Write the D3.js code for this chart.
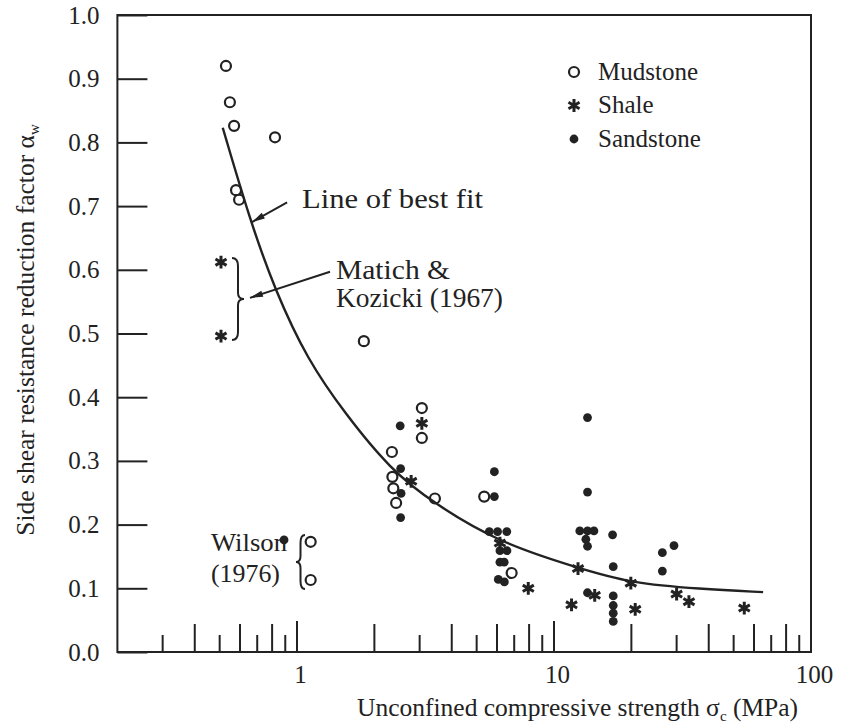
<!DOCTYPE html>
<html>
<head>
<meta charset="utf-8">
<script src="https://cdn.jsdelivr.net/npm/d3@7"></script>
<style>
  html, body { margin: 0; padding: 0; background: #fff; }
  svg { display: block; }
  text { font-family: "Liberation Serif", "Times New Roman", serif; fill: #222; }
</style>
</head>
<body>
<svg id="chart" width="841" height="724"></svg>
<script>
// Mudstone (open circles): unconfined compressive strength (MPa), reduction factor
const mudstoneX = [0.529, 0.548, 0.569, 0.821, 0.579, 0.595, 1.82, 3.06, 3.06, 2.34, 2.35, 2.37, 2.43, 3.44, 5.35, 6.84, 1.13, 1.13];
const mudstoneY = [0.920, 0.863, 0.826, 0.808, 0.725, 0.710, 0.488, 0.383, 0.336, 0.314, 0.275, 0.257, 0.234, 0.241, 0.244, 0.124, 0.173, 0.113];

// Shale (asterisks)
const shaleX = [0.506, 0.506, 3.06, 2.78, 6.16, 7.94, 11.7, 12.4, 14.4, 19.9, 20.7, 30.0, 33.5, 55.0];
const shaleY = [0.612, 0.496, 0.359, 0.268, 0.171, 0.100, 0.074, 0.131, 0.089, 0.108, 0.067, 0.091, 0.079, 0.069];

// Sandstone (filled dots)
const sandstoneX = [0.89, 2.52, 2.53, 2.54, 2.53, 5.86, 5.86, 5.60, 6.03, 6.55, 6.16, 6.56, 6.16, 6.40, 6.07, 6.41,
                    13.5, 13.5, 12.6, 13.5, 14.3, 13.3, 13.5, 13.5, 16.9, 17.0, 17.0, 17.0, 17.0, 17.0, 26.4, 29.3, 26.4];
const sandstoneY = [0.176, 0.355, 0.288, 0.249, 0.211, 0.283, 0.244, 0.189, 0.189, 0.189, 0.159, 0.159, 0.141, 0.141, 0.114, 0.110,
                    0.368, 0.251, 0.190, 0.190, 0.190, 0.177, 0.166, 0.093, 0.184, 0.134, 0.088, 0.073, 0.061, 0.048, 0.156, 0.167, 0.127];

// Line of best fit
const fitX = [0.514, 0.656, 0.821, 1.10, 1.54, 2.30, 3.44, 6.17, 12.4, 19.9, 37.0, 65.1];
const fitY = [0.823, 0.678, 0.568, 0.458, 0.374, 0.287, 0.232, 0.171, 0.132, 0.108, 0.099, 0.094];

// Axis ticks
const yTicks = [0.0, 0.1, 0.2, 0.3, 0.4, 0.5, 0.6, 0.7, 0.8, 0.9, 1.0];
const xLabelTicks = [1, 10, 100];
const xMajorTicks = [1, 10];
const xLongTicks = [0.4, 0.6, 0.8, 2, 4, 6, 8, 20, 40, 60, 80];
const xShortTicks = [0.3, 0.5, 0.7, 0.9, 3, 5, 7, 9, 30, 50, 70, 90];

const legendItems = ["Mudstone", "Shale", "Sandstone"];

const ink = "#222";
const svg = d3.select("#chart");

const x = d3.scaleLog().domain([0.2, 100]).range([117.4, 811]);
const y = d3.scaleLinear().domain([0, 1]).range([652, 15]);

// Frame
svg.append("rect")
  .attr("x", x(0.2)).attr("y", y(1))
  .attr("width", x(100) - x(0.2)).attr("height", y(0) - y(1))
  .attr("fill", "none").attr("stroke", ink).attr("stroke-width", 2);

// Left axis: inward ticks with labels
const yAxis = d3.axisLeft(y).tickValues(yTicks).tickFormat(d3.format(".1f"))
  .tickSizeInner(-30).tickSizeOuter(0).tickPadding(48);
const gy = svg.append("g").attr("transform", `translate(${x(0.2)},0)`).call(yAxis);
gy.select(".domain").remove();
gy.selectAll(".tick line").attr("stroke", ink).attr("stroke-width", 2);
gy.selectAll(".tick text").attr("font-size", 25).attr("fill", ink)
  .attr("font-family", "Liberation Serif, serif").attr("dx", 30).attr("dy", "0.32em");

// Bottom axis labels
const xAxis = d3.axisBottom(x).tickValues(xLabelTicks).tickFormat(d3.format("d"))
  .tickSize(0).tickPadding(13);
const gx = svg.append("g").attr("transform", `translate(0,${y(0)})`).call(xAxis);
gx.select(".domain").remove();
gx.selectAll(".tick text").attr("font-size", 25).attr("fill", ink)
  .attr("font-family", "Liberation Serif, serif").attr("dx", 3);

// Bottom ticks pointing up, three lengths
function tickSet(vals, len) {
  svg.append("g").selectAll("line").data(vals).join("line")
    .attr("x1", d => x(d)).attr("x2", d => x(d))
    .attr("y1", y(0)).attr("y2", y(0) - len)
    .attr("stroke", ink).attr("stroke-width", 2);
}
tickSet(xMajorTicks, 31);
tickSet(xLongTicks, 28);
tickSet(xShortTicks, 17);

// Axis titles
const xt = svg.append("text").attr("x", 357).attr("y", 716).attr("font-size", 25.5);
xt.append("tspan").text("Unconfined compressive strength \u03c3");
xt.append("tspan").attr("font-size", 15).attr("dy", 5).text("c");
xt.append("tspan").attr("dy", -5).text(" (MPa)");

const yt = svg.append("text").attr("transform", "translate(34,330) rotate(-90)")
  .attr("text-anchor", "middle").attr("font-size", 25.5);
yt.append("tspan").text("Side shear resistance reduction factor \u03b1");
yt.append("tspan").attr("font-size", 15).attr("dy", 5).text("w");

// Line of best fit (smoothed B-spline through the read-off points)
const fitPts = fitX.map((v, i) => [v, fitY[i]]);
svg.append("path").datum(fitPts)
  .attr("d", d3.line().x(d => x(d[0])).y(d => y(d[1])).curve(d3.curveBasis))
  .attr("fill", "none").attr("stroke", ink).attr("stroke-width", 2.4);

// Markers
const starPath = d3.symbol(d3.symbolAsterisk, 115)();
function drawMud(g, cx, cy) {
  g.append("circle").attr("cx", cx).attr("cy", cy).attr("r", 5)
    .attr("fill", "none").attr("stroke", ink).attr("stroke-width", 2.2);
}
function drawShale(g, cx, cy) {
  g.append("path").attr("d", starPath).attr("transform", `translate(${cx},${cy})`)
    .attr("fill", "none").attr("stroke", ink).attr("stroke-width", 3);
}
function drawSand(g, cx, cy) {
  g.append("circle").attr("cx", cx).attr("cy", cy).attr("r", 4.4).attr("fill", ink);
}

const gm = svg.append("g");
sandstoneX.forEach((v, i) => drawSand(gm, x(v), y(sandstoneY[i])));
mudstoneX.forEach((v, i) => drawMud(gm, x(v), y(mudstoneY[i])));
shaleX.forEach((v, i) => drawShale(gm, x(v), y(shaleY[i])));

// Legend
const legendDraw = [drawMud, drawShale, drawSand];
legendItems.forEach((name, i) => {
  const cy = 72 + i * 33.5;
  legendDraw[i](svg, 574, cy);
  svg.append("text").attr("x", 598).attr("y", cy + 7.5).attr("font-size", 25).text(name);
});

// Annotations
function arrow(x1, y1, x2, y2) {
  svg.append("line").attr("x1", x1).attr("y1", y1).attr("x2", x2).attr("y2", y2)
    .attr("stroke", ink).attr("stroke-width", 2);
  const a = Math.atan2(y2 - y1, x2 - x1), L = 13, W = 3.2;
  const bx = x2 - L * Math.cos(a), by = y2 - L * Math.sin(a);
  const nx = -Math.sin(a) * W, ny = Math.cos(a) * W;
  svg.append("path")
    .attr("d", `M${x2},${y2}L${bx + nx},${by + ny}L${bx - nx},${by - ny}Z`)
    .attr("fill", ink);
}
function note(tx, ty, size, width, str) {
  svg.append("text").attr("x", tx).attr("y", ty).attr("font-size", size)
    .attr("textLength", width).attr("lengthAdjust", "spacingAndGlyphs").text(str);
}

note(302, 208, 28, 181, "Line of best fit");
arrow(x(0.915), y(0.706), x(0.668), y(0.675));

note(336, 279, 28, 114, "Matich &");
note(336, 307, 28, 167, "Kozicki (1967)");
arrow(x(1.344), y(0.597), x(0.656), y(0.556));

note(211, 551, 26, 76, "Wilson");
note(211, 582, 26, 69, "(1976)");

// Braces
function brace(xEdge, xTip, yTop, yBot) {
  const ym = (yTop + yBot) / 2, xm = (xEdge + xTip) / 2;
  const p = d3.path();
  p.moveTo(xEdge, yTop);
  p.quadraticCurveTo(xm, yTop, xm, yTop + 8);
  p.lineTo(xm, ym - 6);
  p.quadraticCurveTo(xm, ym, xTip, ym);
  p.quadraticCurveTo(xm, ym, xm, ym + 6);
  p.lineTo(xm, yBot - 8);
  p.quadraticCurveTo(xm, yBot, xEdge, yBot);
  svg.append("path").attr("d", p.toString())
    .attr("fill", "none").attr("stroke", ink).attr("stroke-width", 2);
}
brace(232, 244, 258, 340);
brace(305, 296, 535, 589);
</script>
</body>
</html>
